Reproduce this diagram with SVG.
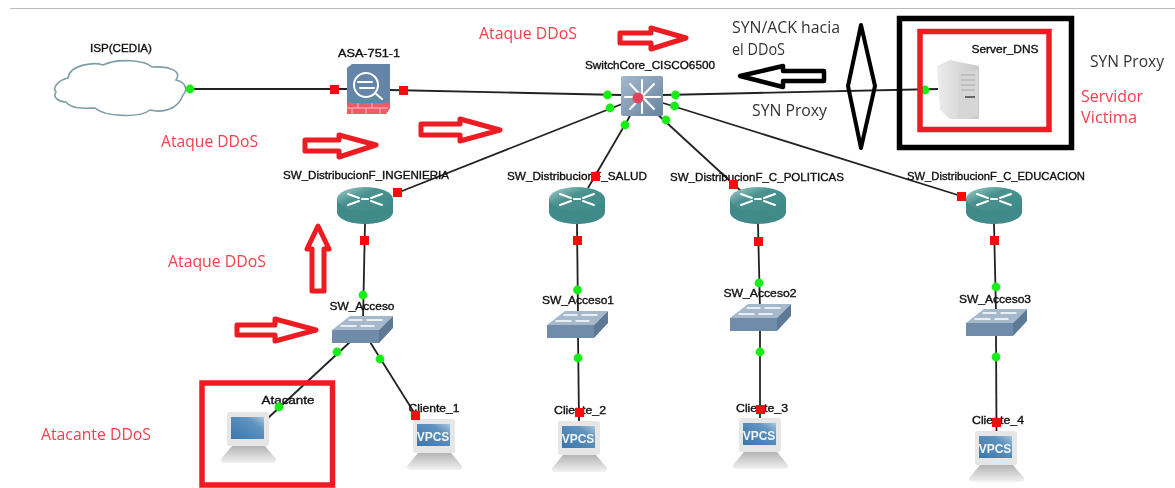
<svg xmlns="http://www.w3.org/2000/svg" width="1175" height="488" viewBox="0 0 1175 488">
<style>
.lbl{font-family:"Liberation Sans",Arial,sans-serif;font-size:11px;fill:#111;stroke:#111;stroke-width:.35;text-anchor:middle}
.note{font-family:"Open Sans",sans-serif;font-size:15.5px}
.vp{font-family:"Liberation Sans",sans-serif;font-size:12px;font-weight:bold;fill:#f2f6fa;text-anchor:middle}
.red{fill:#f0404c}
.blk{fill:#333}
.conn line{stroke:#222;stroke-width:1.8}
.g{fill:#14ee14}
.r{fill:#f50f0f}
.rarrow{fill:#fff;stroke:#ed1c24;stroke-width:5;stroke-linejoin:round}
.box{fill:none}
.wh{stroke:#fff;stroke-width:2;fill:none;stroke-linecap:round}
svg>g{filter:url(#soft)}
</style>
<defs>
<filter id="soft" x="0" y="0" width="1175" height="488" filterUnits="userSpaceOnUse"><feGaussianBlur stdDeviation="0.4"/></filter>
<linearGradient id="rt" x1="0" y1="0" x2="1" y2="1"><stop offset="0" stop-color="#a7cfcd"/><stop offset=".4" stop-color="#4a9290"/><stop offset="1" stop-color="#3d8a88"/></linearGradient>
<linearGradient id="sv" x1="0" y1="0" x2="1" y2="0"><stop offset="0" stop-color="#ececec"/><stop offset="1" stop-color="#c8c8c8"/></linearGradient>
<linearGradient id="scr" x1="0" y1="1" x2="1" y2="0"><stop offset="0" stop-color="#3a76ad"/><stop offset=".7" stop-color="#5f93bf"/><stop offset="1" stop-color="#a8c6dc"/></linearGradient>
<linearGradient id="base" x1="0" y1="0" x2="0" y2="1"><stop offset="0" stop-color="#b4b4b4"/><stop offset="1" stop-color="#f2f2f2"/></linearGradient>
<linearGradient id="core" x1="0" y1="0" x2="1" y2="1"><stop offset="0" stop-color="#a4b8cc"/><stop offset="1" stop-color="#6884a0"/></linearGradient>
<g id="router">
<path d="M0,12V25C0,32 13,37 28,37S56,32 56,25V12Z" fill="#3f8b89"/>
<ellipse cx="28" cy="12" rx="28" ry="12" fill="url(#rt)"/>
<path class="wh" d="M11,7L22,11M45,7L34,11M11,18L22,14M45,18L34,14M25,12H31"/>
</g>
<g id="switch">
<polygon points="0,14 18,0 61,0 47,14" fill="#a6b9cc"/>
<polygon points="0,14 47,14 47,27 0,27" fill="#718ca9"/>
<polygon points="47,14 61,0 61,12 47,27" fill="#5d7996"/>
<path class="wh" style="stroke-width:1.4" d="M17,4H30M35,4H50M9,10H24M29,10H42"/>
</g>
<g id="pc">
<rect x="6" y="0" width="42" height="34" rx="3" fill="#e6e6e6"/>
<rect x="10" y="5" width="33" height="22" fill="url(#scr)"/>
<path d="M11,34H44L55,47Q55,51 52,51H3Q0,51 0,47Z" fill="url(#base)"/>
</g>
</defs>
<rect width="1175" height="488" fill="#fff"/>
<line x1="10" y1="8.5" x2="1175" y2="8.5" stroke="#bbb" stroke-width="1.2"/>

<g id="connectors" class="conn">
<line x1="190" y1="89" x2="347" y2="89"/>
<line x1="390" y1="90" x2="621" y2="95"/>
<line x1="663" y1="95" x2="938" y2="89"/>
<line x1="397" y1="193" x2="622" y2="104"/>
<line x1="630" y1="116" x2="588" y2="188"/>
<line x1="655" y1="112" x2="742" y2="192"/>
<line x1="663" y1="103" x2="961" y2="196"/>
<line x1="365" y1="223" x2="363" y2="320"/>
<line x1="350" y1="342" x2="268" y2="418"/>
<line x1="370" y1="342" x2="415" y2="414"/>
<line x1="577" y1="224" x2="578" y2="315"/>
<line x1="578" y1="336" x2="579" y2="421"/>
<line x1="758" y1="224" x2="760" y2="310"/>
<line x1="760" y1="330" x2="760" y2="418"/>
<line x1="994" y1="224" x2="996" y2="312"/>
<line x1="996" y1="335" x2="996.5" y2="431"/>
</g>

<g id="isp">
<path d="M68,78C58,80 52,88 56,92C52,98 60,102 66,102C72,110 88,108 95,108C105,117 140,118 150,110C162,113 178,110 183,95C188,90 186,82 176,80C182,72 172,66 152,67C145,60 118,58 103,65C95,62 70,64 68,78Z" fill="#fff" stroke="#7f9ea5" stroke-width="1.6"/>
<text class="lbl" x="121" y="52" textLength="62" lengthAdjust="spacingAndGlyphs">ISP(CEDIA)</text>
</g>
<g id="asa">
<path d="M347,68L352,64H390V108L386,114H347Z" fill="#6585a8"/>
<path d="M347,103H390V108L386,114H347Z" fill="#ee5c66"/>
<path d="M347,108H388M358,103V108M372,103V108M352,108V114M366,108V114M380,108V114" stroke="#fbc" stroke-width="1" fill="none"/>
<circle cx="366" cy="85" r="12" class="wh"/>
<path class="wh" d="M375,93L382,99M358,82H372M360,88H374"/>
<text class="lbl" x="369" y="57" textLength="62" lengthAdjust="spacingAndGlyphs">ASA-751-1</text>
</g>
<g id="core-switch">
<rect x="621" y="76" width="42" height="40" rx="2" fill="url(#core)"/>
<path class="wh" d="M625,97H660M642,80V113M630,84L654,109M654,84L630,109"/>
<circle cx="638" cy="98" r="5.5" fill="#e5425c"/>
<text class="lbl" x="650" y="69" textLength="130" lengthAdjust="spacingAndGlyphs">SwitchCore_CISCO6500</text>
</g>
<g id="server">
<polygon points="937,66 950,60 979,66 979,119 950,119 940,110" fill="url(#sv)"/>
<polygon points="958,72 978,70 978,116 958,119" fill="#d6d6d6"/>
<path d="M961,75H975M961,80H975M961,85H975M961,90H975" stroke="#aaa"/>
<rect x="965" y="96" width="10" height="2" fill="#666"/>
<text class="lbl" x="1005" y="53" textLength="67" lengthAdjust="spacingAndGlyphs">Server_DNS</text>
</g>
<g id="sw-dist-ing"><use href="#router" x="337" y="187"/><text class="lbl" x="366" y="179" textLength="166" lengthAdjust="spacingAndGlyphs">SW_DistribucionF_INGENIERIA</text></g>
<g id="sw-dist-salud"><use href="#router" x="549" y="187"/><text class="lbl" x="577" y="180" textLength="140" lengthAdjust="spacingAndGlyphs">SW_DistribucionF_SALUD</text></g>
<g id="sw-dist-pol"><use href="#router" x="730" y="187"/><text class="lbl" x="757" y="181" textLength="174" lengthAdjust="spacingAndGlyphs">SW_DistribucionF_C_POLITICAS</text></g>
<g id="sw-dist-edu"><use href="#router" x="966" y="187"/><text class="lbl" x="996" y="180" textLength="178" lengthAdjust="spacingAndGlyphs">SW_DistribucionF_C_EDUCACION</text></g>
<g id="sw-acceso"><use href="#switch" x="332" y="316"/><text class="lbl" x="362" y="310" textLength="65" lengthAdjust="spacingAndGlyphs">SW_Acceso</text></g>
<g id="sw-acceso1"><use href="#switch" x="547" y="311"/><text class="lbl" x="578" y="304" textLength="72" lengthAdjust="spacingAndGlyphs">SW_Acceso1</text></g>
<g id="sw-acceso2"><use href="#switch" x="730" y="304"/><text class="lbl" x="760" y="297" textLength="73" lengthAdjust="spacingAndGlyphs">SW_Acceso2</text></g>
<g id="sw-acceso3"><use href="#switch" x="966" y="309"/><text class="lbl" x="995" y="303" textLength="72" lengthAdjust="spacingAndGlyphs">SW_Acceso3</text></g>
<g id="atacante"><use href="#pc" x="221" y="412"/><text class="lbl" x="288" y="404" textLength="53" lengthAdjust="spacingAndGlyphs">Atacante</text></g>
<g id="cliente1"><use href="#pc" x="407" y="419"/><text class="vp" x="433" y="441">VPCS</text><text class="lbl" x="434" y="412" textLength="51" lengthAdjust="spacingAndGlyphs">Cliente_1</text></g>
<g id="cliente2"><use href="#pc" x="552" y="421"/><text class="vp" x="578" y="443">VPCS</text><text class="lbl" x="580" y="414" textLength="52" lengthAdjust="spacingAndGlyphs">Cliente_2</text></g>
<g id="cliente3"><use href="#pc" x="733" y="418"/><text class="vp" x="759" y="440">VPCS</text><text class="lbl" x="762" y="412" textLength="52" lengthAdjust="spacingAndGlyphs">Cliente_3</text></g>
<g id="cliente4"><use href="#pc" x="969" y="431"/><text class="vp" x="995" y="453">VPCS</text><text class="lbl" x="998" y="424" textLength="52" lengthAdjust="spacingAndGlyphs">Cliente_4</text></g>

<g id="ports">
<circle class="g" cx="190" cy="89" r="4.4"/><circle class="g" cx="607.5" cy="95" r="4.4"/><circle class="g" cx="610" cy="108" r="4.4"/><circle class="g" cx="625" cy="125" r="4.4"/><circle class="g" cx="666" cy="120" r="4.4"/><circle class="g" cx="674.5" cy="106" r="4.4"/><circle class="g" cx="675.5" cy="95" r="4.4"/><circle class="g" cx="925" cy="90" r="4.4"/>
<circle class="g" cx="363" cy="295" r="4.4"/><circle class="g" cx="337" cy="352" r="4.4"/><circle class="g" cx="380" cy="359" r="4.4"/><circle class="g" cx="279" cy="407" r="4.4"/>
<circle class="g" cx="577.5" cy="290" r="4.4"/><circle class="g" cx="578" cy="358" r="4.4"/><circle class="g" cx="759" cy="283" r="4.4"/><circle class="g" cx="760" cy="352" r="4.4"/><circle class="g" cx="996" cy="287" r="4.4"/><circle class="g" cx="996" cy="357" r="4.4"/>
<rect class="r" x="330" y="85" width="9" height="9"/><rect class="r" x="399" y="86" width="9" height="9"/><rect class="r" x="393" y="188" width="9" height="9"/><rect class="r" x="591" y="172" width="9" height="9"/><rect class="r" x="729" y="180" width="9" height="9"/><rect class="r" x="957" y="192" width="9" height="9"/>
<rect class="r" x="360" y="236" width="9" height="9"/><rect class="r" x="573" y="236" width="9" height="9"/><rect class="r" x="754" y="237" width="9" height="9"/><rect class="r" x="990" y="236" width="9" height="9"/>
<rect class="r" x="411" y="411" width="9" height="9"/><rect class="r" x="575" y="408" width="9" height="9"/><rect class="r" x="756" y="405" width="9" height="9"/><rect class="r" x="992" y="418" width="9" height="9"/>
</g>

<g id="annotations">
<rect class="box" x="899.5" y="18.5" width="172" height="129" stroke="#000" stroke-width="5.5"/>
<rect class="box" x="920" y="31.5" width="129" height="98" stroke="#ed1c24" stroke-width="5.5"/>
<rect class="box" x="202" y="383" width="130.5" height="102" stroke="#ed1c24" stroke-width="5.5"/>
<polygon points="861,25 875,86 861,148 848,86" fill="none" stroke="#000" stroke-width="4" stroke-linejoin="round"/>
<polygon class="rarrow" points="620,33 651,33 651,28 686,38 651,49 651,43 620,43"/>
<polygon class="rarrow" points="305,140 339,140 339,135 376,145 339,157 339,151 305,151"/>
<polygon class="rarrow" points="421,124 460,124 460,119 500,130 460,141 460,135 421,135"/>
<polygon class="rarrow" points="237,325 275,325 275,319 316,330 275,341 275,335 237,335"/>
<polygon class="rarrow" points="312,291 312,249 307,249 318,226 329,249 324,249 324,291"/>
<polygon fill="#fff" stroke="#000" stroke-width="4.5" stroke-linejoin="round" points="824,71 783,71 783,66 740,76 783,87 783,81 824,81"/>
<text class="note red" x="479" y="39" textLength="98" lengthAdjust="spacingAndGlyphs">Ataque DDoS</text>
<text class="note red" x="161" y="147" textLength="97" lengthAdjust="spacingAndGlyphs">Ataque DDoS</text>
<text class="note red" x="168" y="267" textLength="98" lengthAdjust="spacingAndGlyphs">Ataque DDoS</text>
<text class="note red" x="41" y="440" textLength="110" lengthAdjust="spacingAndGlyphs">Atacante DDoS</text>
<text class="note blk" x="732" y="33" textLength="108" lengthAdjust="spacingAndGlyphs">SYN/ACK hacia</text>
<text class="note blk" x="732" y="55" textLength="53" lengthAdjust="spacingAndGlyphs">el DDoS</text>
<text class="note blk" x="752" y="116" textLength="75" lengthAdjust="spacingAndGlyphs">SYN Proxy</text>
<text class="note blk" x="1090" y="67" textLength="74" lengthAdjust="spacingAndGlyphs">SYN Proxy</text>
<text class="note red" x="1081" y="102" textLength="62" lengthAdjust="spacingAndGlyphs">Servidor</text>
<text class="note red" x="1081" y="123" textLength="56" lengthAdjust="spacingAndGlyphs">Victima</text>
</g>
</svg>
